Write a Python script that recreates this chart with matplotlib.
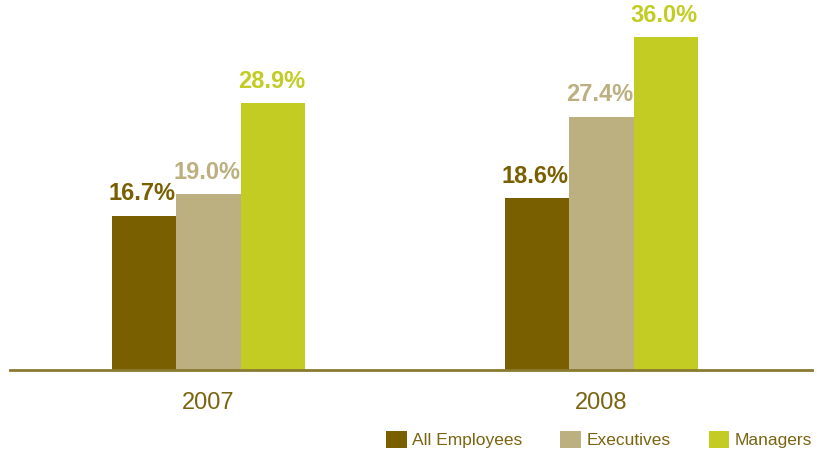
import matplotlib
matplotlib.use("Agg")
import matplotlib.pyplot as plt
import numpy as np

years = ["2007", "2008"]
series = ["All Employees", "Executives", "Managers"]
all_employees = [16.7, 18.6]
executives = [19.0, 27.4]
managers = [28.9, 36.0]

colors = ["#7a5f00", "#bcb080", "#c2cc22"]
text_col = "#7a6410"

plt.rcParams['font.family'] = ['Liberation Sans', 'DejaVu Sans']

fig = plt.figure(figsize=(8.17, 4.55), dpi=100)
ax = fig.add_axes([10 / 817, 85 / 455, 802 / 817, 370 / 455])

x = np.arange(len(years))
w = 0.164
vals = [all_employees, executives, managers]
for i, (name, v) in enumerate(zip(series, vals)):
    pos = x + (i - 1) * w
    ax.bar(pos, v, width=w, color=colors[i], label=name, zorder=2)
    for px, val in zip(pos, v):
        ax.text(px - 0.004, val + 1.1, f"{val:.1f}%", ha="center", va="bottom",
                color=colors[i], fontsize=17, fontweight="bold")

ax.set_xlim(-0.505, 1.536)
ax.set_ylim(0, 40)
for s in ["top", "right", "left"]:
    ax.spines[s].set_visible(False)
ax.spines["bottom"].set_color("#8a7a30")
ax.spines["bottom"].set_linewidth(2)
ax.set_yticks([])
ax.set_xticks(x)
ax.set_xticklabels(years, fontsize=17, color=text_col)
ax.tick_params(axis="x", length=0, pad=16)

ax.legend(loc="lower right", bbox_to_anchor=(1.0, -0.212), ncol=3, frameon=False,
          fontsize=12.5, handlelength=1.2, handleheight=1.2, handletextpad=0.3,
          columnspacing=2.2, labelcolor=text_col, borderaxespad=0, borderpad=0)

fig.savefig("out.png", dpi=100)
